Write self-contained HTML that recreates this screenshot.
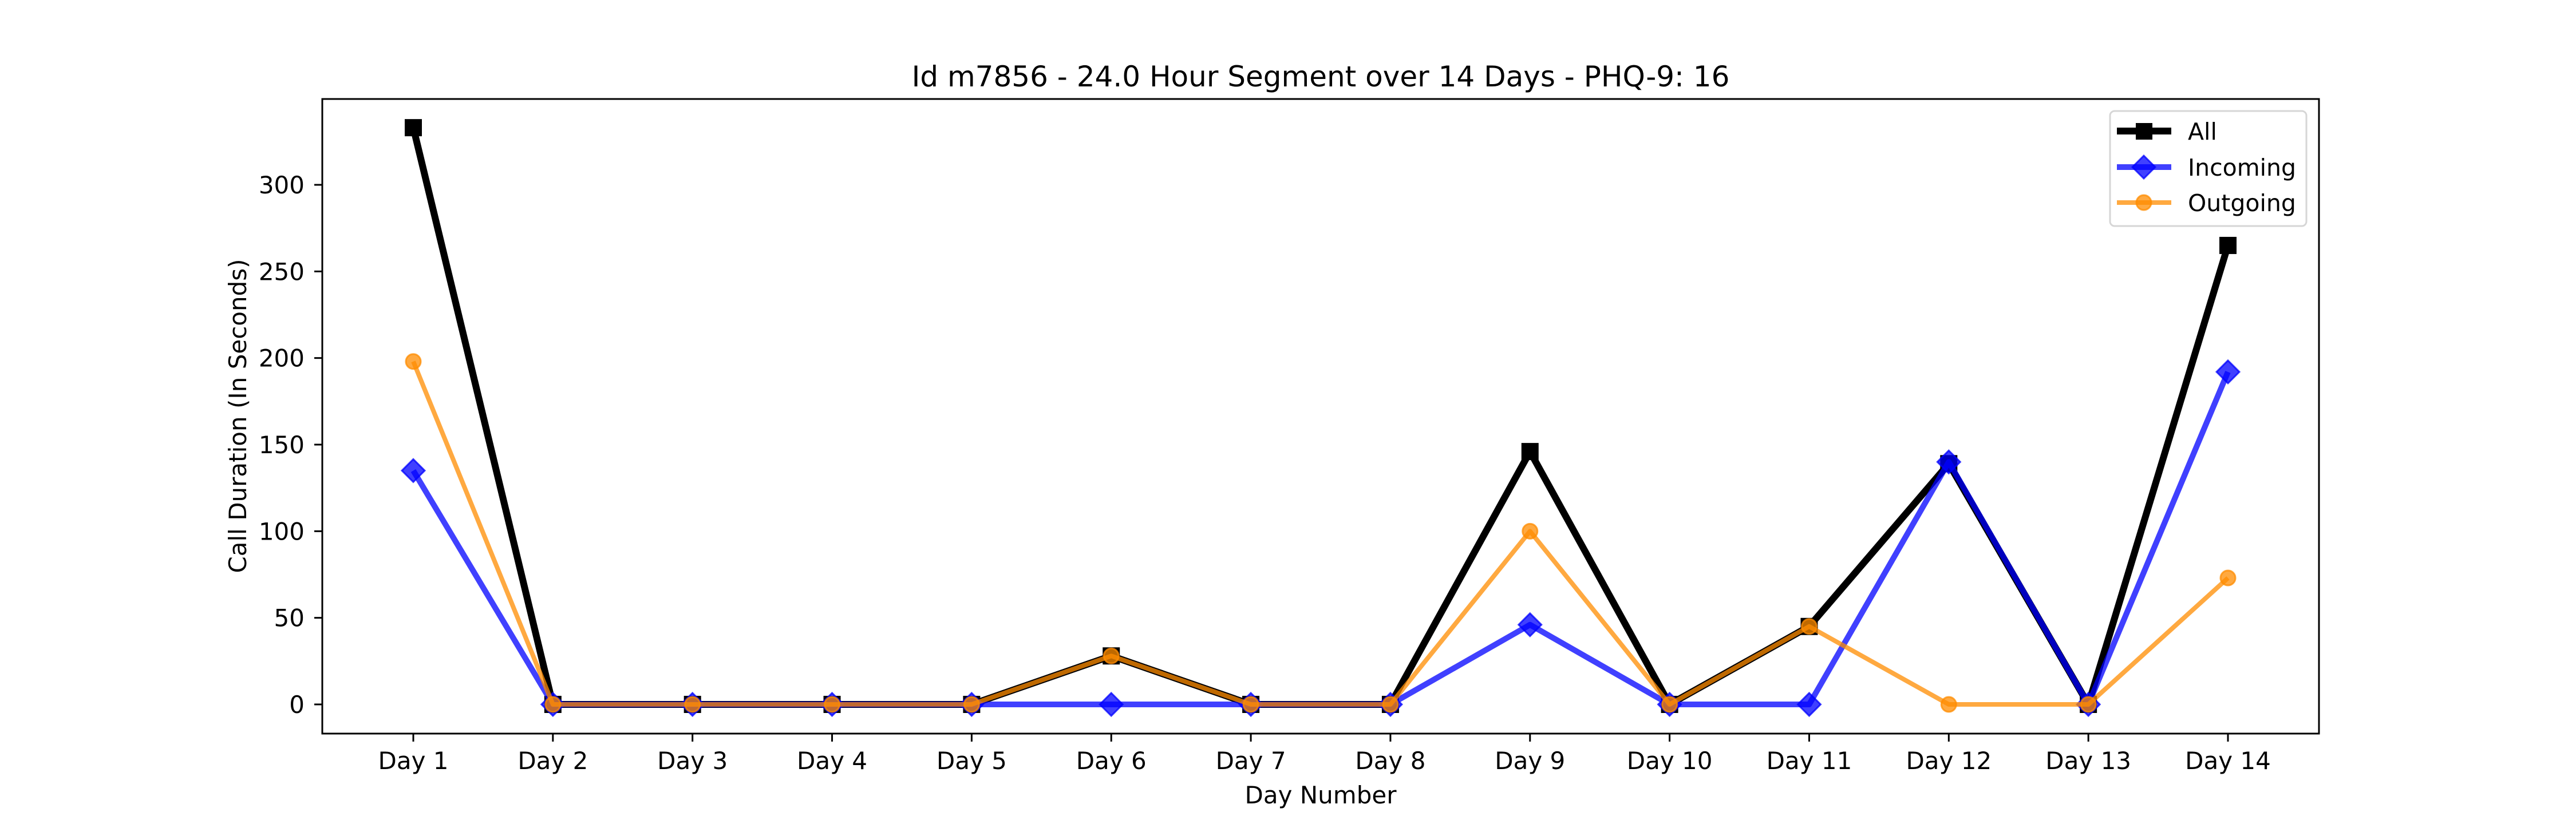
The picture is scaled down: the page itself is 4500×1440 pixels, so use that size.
<!DOCTYPE html>
<html><head><meta charset="utf-8"><style>
html,body{margin:0;padding:0;background:#fff}
svg{display:block;font-family:"DejaVu Sans","Liberation Sans",sans-serif}
</style></head><body>
<svg id="chart" width="4500" height="1440" viewBox="0 0 4500 1440" xmlns="http://www.w3.org/2000/svg">
<rect width="4500" height="1440" fill="#fff"/>
<text x="2307" y="151" font-size="50" text-anchor="middle">Id m7856 - 24.0 Hour Segment over 14 Days - PHQ-9: 16</text>
<g id="plot"></g>
<rect x="563" y="173" width="3488" height="1109" fill="none" stroke="#000" stroke-width="3"/>
<g id="axes"></g>
<text x="2307" y="1404" font-size="42" text-anchor="middle">Day Number</text>
<text transform="translate(430,727) rotate(-90)" font-size="42" text-anchor="middle">Call Duration (In Seconds)</text>
<g>
<rect x="3686" y="194" width="343" height="201" rx="8" fill="#fff" fill-opacity="0.8" stroke="#d6d6d6" stroke-width="3"/>
<g>
<line x1="3698" y1="229" x2="3793" y2="229" stroke="#000" stroke-width="12"/>
<rect x="3731" y="215" width="29" height="29" fill="#000"/>
<text x="3822" y="244" font-size="41">All</text>
</g>
<g>
<line x1="3698" y1="292" x2="3793" y2="292" stroke="#0000ff" stroke-opacity="0.75" stroke-width="10"/>
<polygon points="3745,272 3765,292 3745,312 3725,292" fill="#0000ff" fill-opacity="0.75" stroke="#0000ff" stroke-opacity="0.75" stroke-width="3"/>
<text x="3822" y="307" font-size="41">Incoming</text>
</g>
<g>
<line x1="3698" y1="354" x2="3793" y2="354" stroke="#ff8c00" stroke-opacity="0.75" stroke-width="8"/>
<circle cx="3745" cy="354" r="13" fill="#ff8c00" fill-opacity="0.75" stroke="#ff8c00" stroke-opacity="0.75" stroke-width="3"/>
<text x="3822" y="369" font-size="41">Outgoing</text>
</g>
</g>
</svg>
<script>
const days = ["Day 1","Day 2","Day 3","Day 4","Day 5","Day 6","Day 7","Day 8","Day 9","Day 10","Day 11","Day 12","Day 13","Day 14"];
const allValues = [333,0,0,0,0,28,0,0,146,0,45,139,0,265];
const incomingValues = [135,0,0,0,0,0,0,0,46,0,0,140,0,192];
const outgoingValues = [198,0,0,0,0,28,0,0,100,0,45,0,0,73];
const yTicks = [0,50,100,150,200,250,300];

const NS = "http://www.w3.org/2000/svg";
function xScale(i){ return 722 + i * (3892 - 722) / 13; }
function yScale(v){ return 1231 - v * (1231 - 323) / 300; }
function mk(tag, attrs, parent){
  const e = document.createElementNS(NS, tag);
  for (const k in attrs) e.setAttribute(k, attrs[k]);
  parent.appendChild(e);
  return e;
}
const plot = document.getElementById('plot');
const axes = document.getElementById('axes');

yTicks.forEach(v => {
  const y = yScale(v);
  const t = mk('line', {x1:549, x2:563, y1:y, y2:y, stroke:'#000', 'stroke-width':3}, axes);
  
  
  const l = mk('text', {x:532, y:y+15, 'font-size':42, 'text-anchor':'end'}, axes);
  l.textContent = String(v);
  
  
});
days.forEach((d, i) => {
  const x = xScale(i);
  const t = mk('line', {x1:x, x2:x, y1:1282, y2:1296, stroke:'#000', 'stroke-width':3}, axes);
  
  
  const l = mk('text', {x:x, y:1344, 'font-size':42, 'text-anchor':'middle'}, axes);
  l.textContent = d;
  
  
});

function series(values, color, opacity, width, marker, name){
  const g = mk('g', {}, plot);
  
  
  const pts = values.map((v, i) => xScale(i) + ',' + yScale(v)).join(' ');
  const pl = mk('polyline', {points:pts, fill:'none', stroke:color, 'stroke-opacity':opacity, 'stroke-width':width, 'stroke-linejoin':'round'}, g);
  
  
  values.forEach((v, i) => {
    const x = xScale(i), y = yScale(v);
    let m;
    if (marker === 'square') {
      m = mk('rect', {x:x-15, y:y-15, width:30, height:30, fill:color}, g);
    } else if (marker === 'diamond') {
      m = mk('polygon', {points:`${x},${y-20} ${x+20},${y} ${x},${y+20} ${x-20},${y}`, fill:color, 'fill-opacity':opacity, stroke:color, 'stroke-opacity':opacity, 'stroke-width':3}, g);
    } else {
      m = mk('circle', {cx:x, cy:y, r:13, fill:color, 'fill-opacity':opacity, stroke:color, 'stroke-opacity':opacity, 'stroke-width':3}, g);
    }
    
    
  });
}
series(allValues, '#000000', 1, 12, 'square', 'all');
series(incomingValues, '#0000ff', 0.75, 10, 'diamond', 'incoming');
series(outgoingValues, '#ff8c00', 0.75, 8, 'circle', 'outgoing');
</script>
</body></html>
